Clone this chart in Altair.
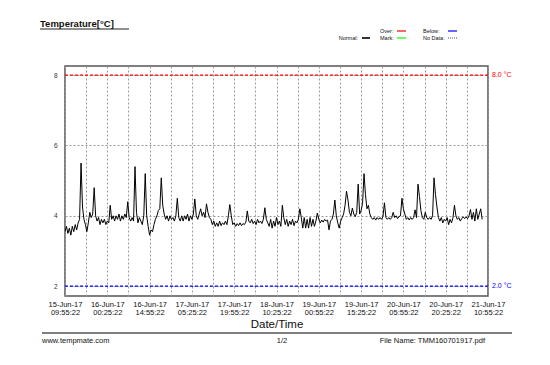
import altair as alt
import pandas as pd

# ---------------- data ----------------
start_time = "2017-06-15T09:55:22Z"
end_time = "2017-06-21T10:55:22Z"
step_minutes = 30

temperature = [
    3.55, 3.7, 3.5, 3.65, 3.45, 3.7, 3.55, 3.75, 3.6, 3.8,
    3.9, 5.5, 4.25, 3.9, 3.75, 3.55, 3.8, 4.1, 3.95, 4.05,
    4.8, 4.0, 3.85, 3.95, 3.75, 3.9, 3.8, 3.9, 3.75, 3.85,
    3.8, 4.3, 3.9, 4.0, 3.85, 4.0, 3.9, 4.05, 3.85, 4.0,
    3.9, 4.05, 3.95, 4.4, 3.95, 3.85, 3.95, 3.85, 5.4, 4.1,
    3.8, 3.95, 3.85, 3.75, 4.0, 5.2, 4.0, 3.7, 3.45, 3.6,
    3.55, 3.75, 3.9, 4.0, 4.15, 4.2, 5.08, 4.3, 4.05, 3.9,
    4.0, 3.85, 4.0, 3.9, 3.95, 3.85, 4.0, 4.5, 3.95, 3.85,
    4.0, 3.85, 4.0, 3.9, 4.05, 3.85, 4.0, 3.9, 4.05, 4.48,
    4.0, 3.9, 4.05, 4.2, 4.0, 4.1, 3.95, 4.34, 4.1, 3.95,
    3.9, 3.75, 3.85, 3.7, 3.8, 3.7, 3.85, 3.72, 3.8, 3.75,
    3.85, 3.75, 4.0, 4.32, 4.0, 3.75, 3.8, 3.7, 3.78, 3.72,
    3.8, 3.72, 3.78, 3.75, 3.82, 4.14, 3.85, 3.8, 3.9, 3.78,
    3.85, 3.75, 3.9, 3.8, 3.85, 3.78, 3.9, 4.23, 3.9, 3.8,
    3.7, 3.9, 3.65, 3.85, 3.7, 3.95, 3.75, 3.85, 3.7, 4.3,
    3.95, 3.75, 3.9, 3.7, 3.85, 3.75, 3.9, 3.72, 3.85, 3.8,
    3.9, 4.2, 3.95, 3.65, 3.95, 3.65, 3.9, 3.65, 3.95, 3.7,
    3.9, 3.7, 3.85, 4.08, 3.9, 3.8, 3.88, 3.82, 3.9, 3.85,
    3.88, 3.6, 3.85, 3.9, 4.05, 4.45, 4.0, 3.8, 3.65, 3.85,
    3.95, 4.05, 4.3, 4.7, 4.45, 4.1, 4.0, 4.22, 4.05, 3.98,
    4.1, 4.9, 4.05, 4.15, 4.35, 5.2, 4.6, 4.2, 4.3, 4.05,
    3.95, 3.9, 3.95, 3.88, 3.95, 3.9, 3.95, 3.9, 3.98, 4.37,
    3.95, 3.9, 3.95, 3.9, 3.95, 4.1, 3.95, 4.0, 3.92, 3.98,
    4.0, 4.5, 4.2, 4.05, 3.9, 3.95, 3.88, 3.95, 3.9, 3.95,
    4.17, 3.95, 4.9, 4.55, 4.15, 3.95, 3.9, 4.1, 3.95, 3.9,
    3.95, 3.9, 4.0, 5.08, 4.6, 4.25, 3.95, 3.85, 3.95, 3.8,
    3.9, 3.85, 3.95, 3.75, 3.9, 3.8, 3.95, 4.3, 4.0, 3.9,
    3.95, 3.85, 3.92, 3.97, 3.92, 3.97, 3.92, 4.0, 4.18, 3.9,
    4.1, 3.85, 4.2, 3.9, 4.05, 4.2, 3.9,
]

tick_labels = [
    "15-Jun-17 09:55:22", "16-Jun-17 00:25:22", "16-Jun-17 14:55:22",
    "17-Jun-17 05:25:22", "17-Jun-17 19:55:22", "18-Jun-17 10:25:22",
    "19-Jun-17 00:55:22", "19-Jun-17 15:25:22", "20-Jun-17 05:55:22",
    "20-Jun-17 20:25:22", "21-Jun-17 10:55:22",
]

y_ticks = [2, 3, 4, 5, 6, 7, 8]
y_labels_every = 2
y_domain = [1.72, 8.26]

thresholds = [8.0, 2.0]
threshold_labels = ["8.0 °C", "2.0 °C"]
threshold_colors = ["#ff0000", "#0000ff"]

title_text = "Temperature[°C]"
x_title = "Date/Time"
legend_names = ["Normal:", "Over:", "Mark:", "Below:", "No Data:"]
footer_left = "www.tempmate.com"
footer_mid = "1/2"
footer_right = "File Name: TMM160701917.pdf"

# ---------------- derived tables ----------------
times = pd.date_range(pd.Timestamp(start_time), periods=len(temperature),
                      freq=f"{step_minutes}min")
df = pd.DataFrame({"t": times.strftime("%Y-%m-%dT%H:%M:%SZ"), "temp": temperature})

tick_ts = [pd.Timestamp(s, tz="UTC") for s in
           pd.to_datetime(tick_labels, format="%d-%b-%y %H:%M:%S")]
tick_ms = [int(t.value // 10**6) for t in tick_ts]
grid_ms = []
for i, m in enumerate(tick_ms):
    grid_ms.append(m)
    if i + 1 < len(tick_ms):
        grid_ms.append((m + tick_ms[i + 1]) // 2)

x_domain = [int(pd.Timestamp(start_time).value // 10**6),
            int(pd.Timestamp(end_time).value // 10**6)]

label_arr = "[" + ",".join(str(m) for m in tick_ms) + "]"
x_label_expr = (f"indexof({label_arr}, time(datum.value)) >= 0 ? "
                "[utcFormat(datum.value, '%d-%b-%y'), utcFormat(datum.value, '%H:%M:%S')] : ''")

FONT = "Liberation Sans"
W, H = 423, 230

x_scale = alt.Scale(type="utc", domain=x_domain)
y_scale = alt.Scale(domain=y_domain, nice=False, zero=False)

line = alt.Chart(df).mark_line(color="black", strokeWidth=1.0, clip=True).encode(
    x=alt.X("t:T", scale=x_scale,
            axis=alt.Axis(values=grid_ms, labelExpr=x_label_expr, title=x_title,
                          grid=True, gridColor="#9a9a9a", gridDash=[2, 2], gridWidth=1,
                          ticks=False, domain=False, labelFontSize=7.5, labelFont=FONT,
                          labelColor="#111", labelLineHeight=8.5, labelPadding=4,
                          labelAngle=0, labelOverlap=False, labelFlush=False,
                          labelBound=False,
                          titleFont=FONT, titleFontSize=11.5, titleFontWeight="normal",
                          titleColor="#111", titlePadding=2)),
    y=alt.Y("temp:Q", scale=y_scale,
            axis=alt.Axis(values=y_ticks,
                          labelExpr=f"datum.value % {y_labels_every} == 0 ? datum.label : ''",
                          title=None, grid=True, gridColor="#9a9a9a", gridDash=[2, 2],
                          gridWidth=1, ticks=False, domain=False, labelFontSize=6.5,
                          labelFont=FONT, labelColor="#333", labelPadding=8)),
)

thr_df = pd.DataFrame({"v": thresholds, "label": threshold_labels, "c": threshold_colors})
thr_rules = alt.Chart(thr_df).mark_rule(strokeDash=[3, 2], strokeWidth=1.3).encode(
    y=alt.Y("v:Q", scale=y_scale),
    color=alt.Color("c:N", scale=None),
)
thr_text = alt.Chart(thr_df).mark_text(align="left", baseline="middle", fontSize=7,
                                       font=FONT).encode(
    x=alt.value(W + 4),
    y=alt.Y("v:Q", scale=y_scale),
    text="label:N",
    color=alt.Color("c:N", scale=None),
)

one = pd.DataFrame({"a": [0]})

def txt(s, x, y, size=6, align="left", weight="normal", color="#111"):
    return alt.Chart(one).mark_text(text=s, align=align, baseline="middle", fontSize=size,
                                    font=FONT, fontWeight=weight, color=color).encode(
        x=alt.value(x), y=alt.value(y))

def seg(x1, x2, y, color, width=1.0, dash=None):
    kw = dict(color=color, strokeWidth=width)
    if dash:
        kw["strokeDash"] = dash
    return alt.Chart(one).mark_rule(**kw).encode(
        x=alt.value(x1), x2=alt.value(x2), y=alt.value(y))

title = txt(title_text, -25, -42, size=9.5, weight="bold")
underline = seg(-25, 64, -37, "#222", 1.2)

legend = [
    txt(legend_names[0], 293, -28, size=5.5, align="right"),
    seg(297, 305, -28, "#333", 2),
    txt(legend_names[1], 315, -35, size=5.5),
    seg(332, 341, -35, "#ff3333", 1.5),
    txt(legend_names[2], 315, -28, size=5.5),
    seg(332, 341, -28, "#33ff33", 1.5),
    txt(legend_names[3], 358, -35, size=5.5),
    seg(383, 392, -35, "#3333ff", 1.5),
    txt(legend_names[4], 358, -28, size=5.5),
    seg(383, 392, -28, "#555", 1.2, [1, 1]),
]

footer = [
    seg(-23, 447, 267, "#555", 1.5),
    txt(footer_left, -23, 275, size=7.5),
    txt(footer_mid, 217, 275, size=7.5, align="center"),
    txt(footer_right, 420, 275, size=7.5, align="right"),
]

chart = alt.layer(line, thr_rules, thr_text, title, underline, *legend, *footer).properties(
    width=W, height=H,
    padding={"left": 57, "top": 58, "right": 54, "bottom": 61},
    autosize=alt.AutoSizeParams(type="none"),
    background="white",
).configure_view(stroke="#555", strokeWidth=1.5)

chart.save("out.html", embed_options={"renderer": "svg", "actions": False})
